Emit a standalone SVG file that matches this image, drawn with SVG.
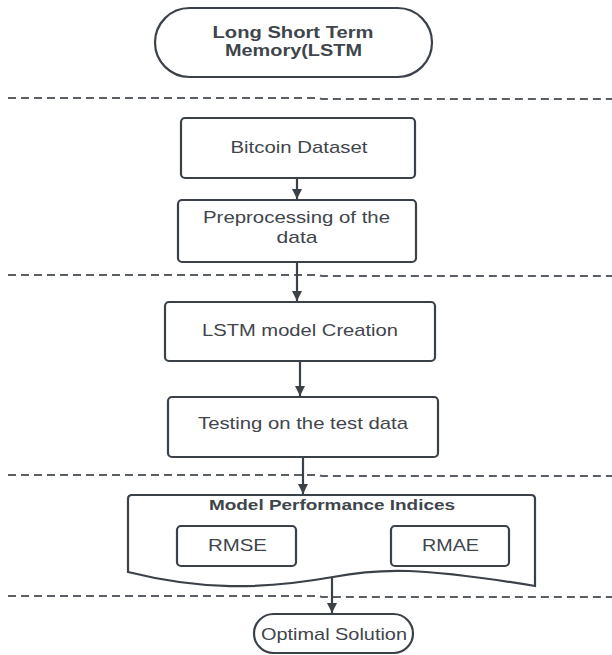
<svg xmlns="http://www.w3.org/2000/svg" width="612" height="655" viewBox="0 0 612 655">
<defs>
<style>
.shape{fill:#ffffff;stroke:#3b4149;stroke-width:2.2}
.t{font-family:"Liberation Sans",Arial,sans-serif;font-size:17px;fill:#3f454c;text-anchor:middle}
.b{font-weight:bold}
.dash{fill:none;stroke:#5a5f66;stroke-width:2;stroke-dasharray:8 5}
.conn{fill:none;stroke:#3b4149;stroke-width:2.2}
</style>
<marker id="ah" viewBox="0 0 10 10" refX="10" refY="5" markerWidth="4.6" markerHeight="4.6" orient="auto" markerUnits="strokeWidth">
<path d="M0,0 L10,5 L0,10 Z" fill="#3b4149"/>
</marker>
</defs>
<rect width="612" height="655" fill="#ffffff"/>

<g id="separators">
<path class="dash" d="M8,98 L318,98 L322,99 L612,99"/>
<path class="dash" d="M8,275 L318,275 L322,276 L612,276"/>
<path class="dash" d="M8,475 L318,475 L322,476 L612,476"/>
<path class="dash" d="M8,596 L318,596 L322,597 L612,597"/>
</g>

<g id="connectors">
<line class="conn" x1="297" y1="178" x2="297" y2="199" marker-end="url(#ah)"/>
<line class="conn" x1="297" y1="262" x2="297" y2="301" marker-end="url(#ah)"/>
<line class="conn" x1="300" y1="361" x2="300" y2="396" marker-end="url(#ah)"/>
<line class="conn" x1="303" y1="457" x2="303" y2="494" marker-end="url(#ah)"/>
<line class="conn" x1="332" y1="577" x2="332" y2="613" marker-end="url(#ah)"/>
</g>

<g id="lstm-start">
<rect class="shape" x="155" y="8" width="277" height="69" rx="34.5" ry="34.5"/>
<text class="t b" x="293" y="38" textLength="161" lengthAdjust="spacingAndGlyphs">Long Short Term</text>
<text class="t b" x="293.5" y="56" textLength="137" lengthAdjust="spacingAndGlyphs">Memory(LSTM</text>
</g>

<g id="bitcoin-dataset">
<rect class="shape" x="181" y="118" width="234" height="60" rx="4"/>
<text class="t" x="299" y="153" textLength="137" lengthAdjust="spacingAndGlyphs">Bitcoin Dataset</text>
</g>

<g id="preprocessing">
<rect class="shape" x="178" y="200" width="238" height="62" rx="4"/>
<text class="t" x="296.5" y="223" textLength="187" lengthAdjust="spacingAndGlyphs">Preprocessing of the</text>
<text class="t" x="297" y="243" textLength="41" lengthAdjust="spacingAndGlyphs">data</text>
</g>

<g id="lstm-model-creation">
<rect class="shape" x="165" y="302" width="270" height="59" rx="4"/>
<text class="t" x="300" y="336" textLength="196" lengthAdjust="spacingAndGlyphs">LSTM model Creation</text>
</g>

<g id="testing">
<rect class="shape" x="168" y="397" width="270" height="60" rx="4"/>
<text class="t" x="303" y="429" textLength="210" lengthAdjust="spacingAndGlyphs">Testing on the test data</text>
</g>

<g id="model-performance-indices">
<path class="shape" d="M128,572 L128,499 Q128,495 132,495 L531,495 Q535,495 535,499 L535,586 C420,567 380,568 333,577 C260,590 200,590 128,572 Z"/>
<text class="t b" x="332" y="510" style="font-size:14.5px" textLength="246" lengthAdjust="spacingAndGlyphs">Model Performance Indices</text>
</g>

<g id="rmse">
<rect class="shape" x="177" y="526" width="119" height="40" rx="4"/>
<text class="t" x="237.5" y="551" textLength="59" lengthAdjust="spacingAndGlyphs">RMSE</text>
</g>

<g id="rmae">
<rect class="shape" x="391" y="526" width="118" height="40" rx="4"/>
<text class="t" x="450.5" y="551" textLength="57" lengthAdjust="spacingAndGlyphs">RMAE</text>
</g>

<g id="optimal-solution">
<rect class="shape" x="254" y="614" width="159" height="39" rx="19.5" ry="19.5"/>
<text class="t" x="334" y="640" textLength="146" lengthAdjust="spacingAndGlyphs">Optimal Solution</text>
</g>
</svg>
